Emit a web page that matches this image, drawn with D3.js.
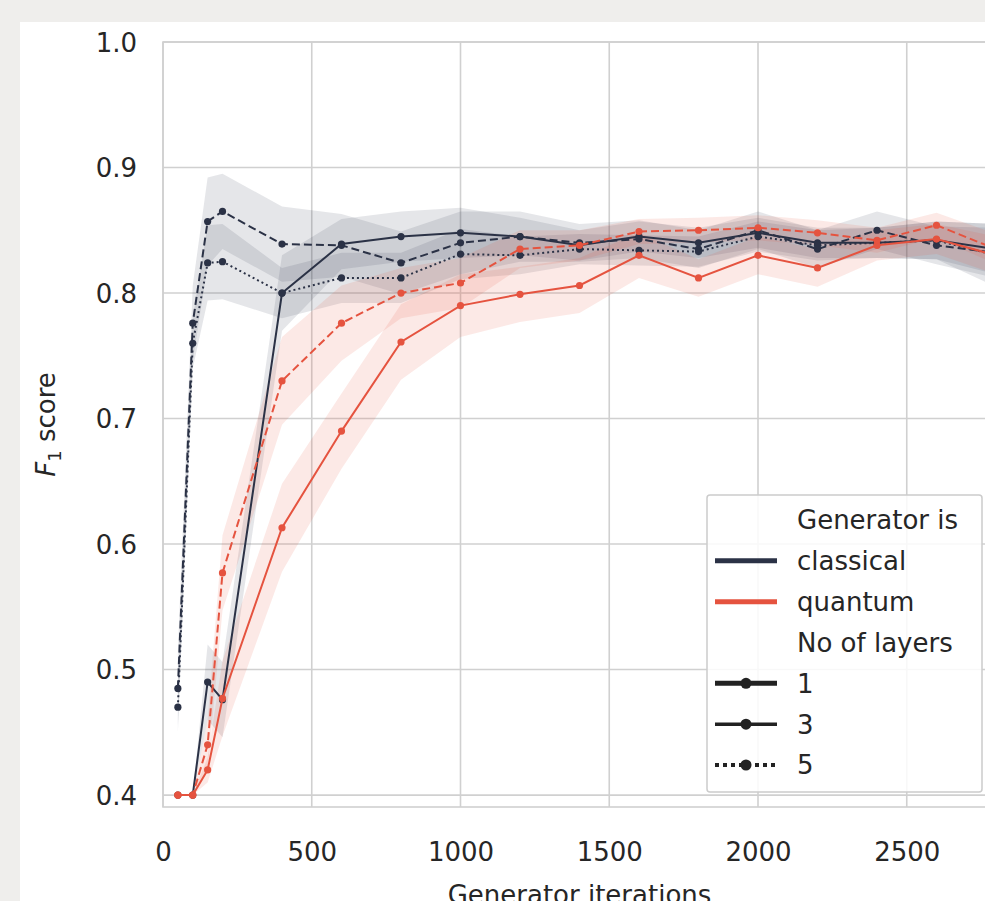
<!DOCTYPE html>
<html>
<head>
<meta charset="utf-8">
<script src="https://cdn.jsdelivr.net/npm/d3@7"></script>
<style>
  html, body { margin: 0; padding: 0; background: #efeeec; }
  svg { display: block; }
  text { font-family: "DejaVu Sans", sans-serif; fill: #262626; }
</style>
</head>
<body>
<svg id="chart" width="985" height="901"></svg>
<script>
// ---------- data ----------
const iterations = [50, 100, 150, 200, 400, 600, 800, 1000, 1200, 1400, 1600, 1800, 2000, 2200, 2400, 2600, 2800];

const classical1 = [0.40, 0.40, 0.49, 0.476, 0.80, 0.839, 0.845, 0.848, 0.845, 0.838, 0.845, 0.840, 0.848, 0.840, 0.840, 0.842, 0.835];
const classical3 = [0.485, 0.776, 0.857, 0.865, 0.839, 0.838, 0.824, 0.840, 0.845, 0.840, 0.843, 0.835, 0.850, 0.835, 0.850, 0.838, 0.832];
const classical5 = [0.47, 0.76, 0.824, 0.825, 0.80, 0.812, 0.812, 0.831, 0.830, 0.835, 0.834, 0.833, 0.845, 0.838, 0.840, 0.842, 0.830];
const quantum1   = [0.40, 0.40, 0.42, 0.477, 0.613, 0.69, 0.761, 0.79, 0.799, 0.806, 0.83, 0.812, 0.83, 0.82, 0.838, 0.843, 0.83];
const quantum3   = [0.40, 0.40, 0.44, 0.577, 0.73, 0.776, 0.80, 0.808, 0.835, 0.838, 0.849, 0.85, 0.852, 0.848, 0.842, 0.854, 0.835];

// confidence band half-widths
const classical1Ci = [0.0, 0.0, 0.03, 0.03, 0.03, 0.02, 0.02, 0.02, 0.015, 0.012, 0.012, 0.012, 0.012, 0.012, 0.012, 0.015, 0.02];
const classical3Ci = [0.03, 0.03, 0.035, 0.03, 0.03, 0.025, 0.025, 0.025, 0.02, 0.015, 0.015, 0.015, 0.015, 0.015, 0.015, 0.015, 0.02];
const classical5Ci = [0.02, 0.02, 0.03, 0.03, 0.02, 0.02, 0.02, 0.02, 0.015, 0.012, 0.012, 0.012, 0.012, 0.012, 0.012, 0.015, 0.025];
const quantum1Ci   = [0.0, 0.0, 0.01, 0.03, 0.035, 0.03, 0.03, 0.025, 0.022, 0.022, 0.018, 0.015, 0.015, 0.015, 0.012, 0.012, 0.015];
const quantum3Ci   = [0.0, 0.0, 0.02, 0.03, 0.035, 0.03, 0.02, 0.02, 0.015, 0.012, 0.01, 0.01, 0.01, 0.01, 0.01, 0.01, 0.012];

const xTicks = [0, 500, 1000, 1500, 2000, 2500];
const yTicks = [0.4, 0.5, 0.6, 0.7, 0.8, 0.9, 1.0];

const generatorLabels = ["classical", "quantum"];
const layerLabels = ["1", "3", "5"];

// ---------- layout ----------
const colors = { classical: "#2b3246", quantum: "#e5533f" };
const dashes = { "1": null, "3": "8,4", "5": "2,3" };

const svg = d3.select("#chart");
svg.append("rect").attr("x", 20).attr("y", 22).attr("width", 965).attr("height", 879).attr("fill", "#ffffff");

const plot = { left: 163, right: 996, top: 42, bottom: 807 };
const x = d3.scaleLinear().domain([0, 2800]).range([plot.left, plot.right]);
const y = d3.scaleLinear().domain([0.3905, 1.0]).range([plot.bottom, plot.top]);

// grid
const g = svg.append("g");
g.selectAll(".vgrid").data(xTicks).join("line")
  .attr("x1", d => x(d)).attr("x2", d => x(d))
  .attr("y1", plot.top).attr("y2", plot.bottom)
  .attr("stroke", "#d0d0d0").attr("stroke-width", 1.6);
g.selectAll(".hgrid").data(yTicks).join("line")
  .attr("x1", plot.left).attr("x2", plot.right)
  .attr("y1", d => y(d)).attr("y2", d => y(d))
  .attr("stroke", "#d0d0d0").attr("stroke-width", 1.6);
// spines
g.append("rect").attr("x", plot.left).attr("y", plot.top)
  .attr("width", plot.right - plot.left).attr("height", plot.bottom - plot.top)
  .attr("fill", "none").attr("stroke", "#d0d0d0").attr("stroke-width", 1.6);

// axes via d3 (no domain lines / ticks, only labels)
const xAxis = d3.axisBottom(x).tickValues(xTicks).tickSize(0).tickPadding(0).tickFormat(d3.format("d"));
const xg = svg.append("g").attr("transform", `translate(0, ${plot.bottom})`).call(xAxis);
xg.select(".domain").remove();
xg.selectAll("text").attr("font-size", 26).attr("dy", 0).attr("y", 54)
  .style("font-family", "DejaVu Sans").attr("fill", "#262626");

const yAxis = d3.axisLeft(y).tickValues(yTicks).tickSize(0).tickPadding(0).tickFormat(d3.format(".1f"));
const yg = svg.append("g").attr("transform", `translate(${plot.left}, 0)`).call(yAxis);
yg.select(".domain").remove();
yg.selectAll("text").attr("font-size", 26).attr("x", -26).attr("dy", "0.36em")
  .style("font-family", "DejaVu Sans").attr("fill", "#262626");

// axis titles
svg.append("text").attr("x", (plot.left + plot.right) / 2).attr("y", 904)
  .attr("text-anchor", "middle").attr("font-size", 26).text("Generator iterations");
const yl = svg.append("text").attr("transform", `translate(55, ${(plot.top + plot.bottom) / 2}) rotate(-90)`)
  .attr("text-anchor", "middle").attr("font-size", 26);
yl.append("tspan").attr("font-style", "italic").text("F");
yl.append("tspan").attr("font-size", 18).attr("dy", 6).text("1");
yl.append("tspan").attr("dy", -6).text(" score");

// series
const series = [
  { gen: "classical", layers: "1", values: classical1, ci: classical1Ci },
  { gen: "classical", layers: "3", values: classical3, ci: classical3Ci },
  { gen: "classical", layers: "5", values: classical5, ci: classical5Ci },
  { gen: "quantum", layers: "1", values: quantum1, ci: quantum1Ci },
  { gen: "quantum", layers: "3", values: quantum3, ci: quantum3Ci }
];

const area = d3.area()
  .x((d, i) => x(iterations[i]))
  .y0(d => y(d.v - d.c))
  .y1(d => y(d.v + d.c));
const line = d3.line().x((d, i) => x(iterations[i])).y(d => y(d));

const bands = svg.append("g");
series.forEach(s => {
  const pts = s.values.map((v, i) => ({ v: v, c: s.ci[i] }));
  bands.append("path").attr("d", area(pts))
    .attr("fill", colors[s.gen]).attr("fill-opacity", s.gen === "classical" ? 0.12 : 0.13);
});

const lines = svg.append("g");
series.forEach(s => {
  lines.append("path").attr("d", line(s.values))
    .attr("fill", "none").attr("stroke", colors[s.gen]).attr("stroke-width", 2)
    .attr("stroke-dasharray", dashes[s.layers]);
  lines.selectAll(null).data(s.values).join("circle")
    .attr("cx", (d, i) => x(iterations[i])).attr("cy", d => y(d))
    .attr("r", 3.6).attr("fill", colors[s.gen]);
});

// legend
const lg = svg.append("g");
lg.append("rect").attr("x", 707).attr("y", 495).attr("width", 275).attr("height", 297)
  .attr("rx", 3).attr("fill", "#ffffff").attr("fill-opacity", 0.85)
  .attr("stroke", "#cccccc").attr("stroke-width", 1.5);
const rowY = d3.scaleLinear().domain([0, 6]).range([520, 765]);
const rows = [
  { label: "Generator is", kind: "title" },
  ...generatorLabels.map(l => ({ label: l, kind: "gen" })),
  { label: "No of layers", kind: "title" },
  ...layerLabels.map(l => ({ label: l, kind: "layer" }))
];
rows.forEach((r, i) => {
  const cy = rowY(i);
  lg.append("text").attr("x", 797).attr("y", cy).attr("dy", "0.36em")
    .attr("font-size", 26).text(r.label);
  if (r.kind === "gen") {
    lg.append("line").attr("x1", 715).attr("x2", 777).attr("y1", cy).attr("y2", cy)
      .attr("stroke", colors[r.label]).attr("stroke-width", 5);
  } else if (r.kind === "layer") {
    const w = r.label === "1" ? 5 : (r.label === "3" ? 3.5 : 4);
    lg.append("line").attr("x1", 715).attr("x2", 777).attr("y1", cy).attr("y2", cy)
      .attr("stroke", "#222222").attr("stroke-width", w)
      .attr("stroke-dasharray", r.label === "5" ? "4,4" : (r.label === "3" ? null : null));
    lg.append("circle").attr("cx", 746).attr("cy", cy).attr("r", 5.5).attr("fill", "#222222");
  }
});
</script>
</body>
</html>
